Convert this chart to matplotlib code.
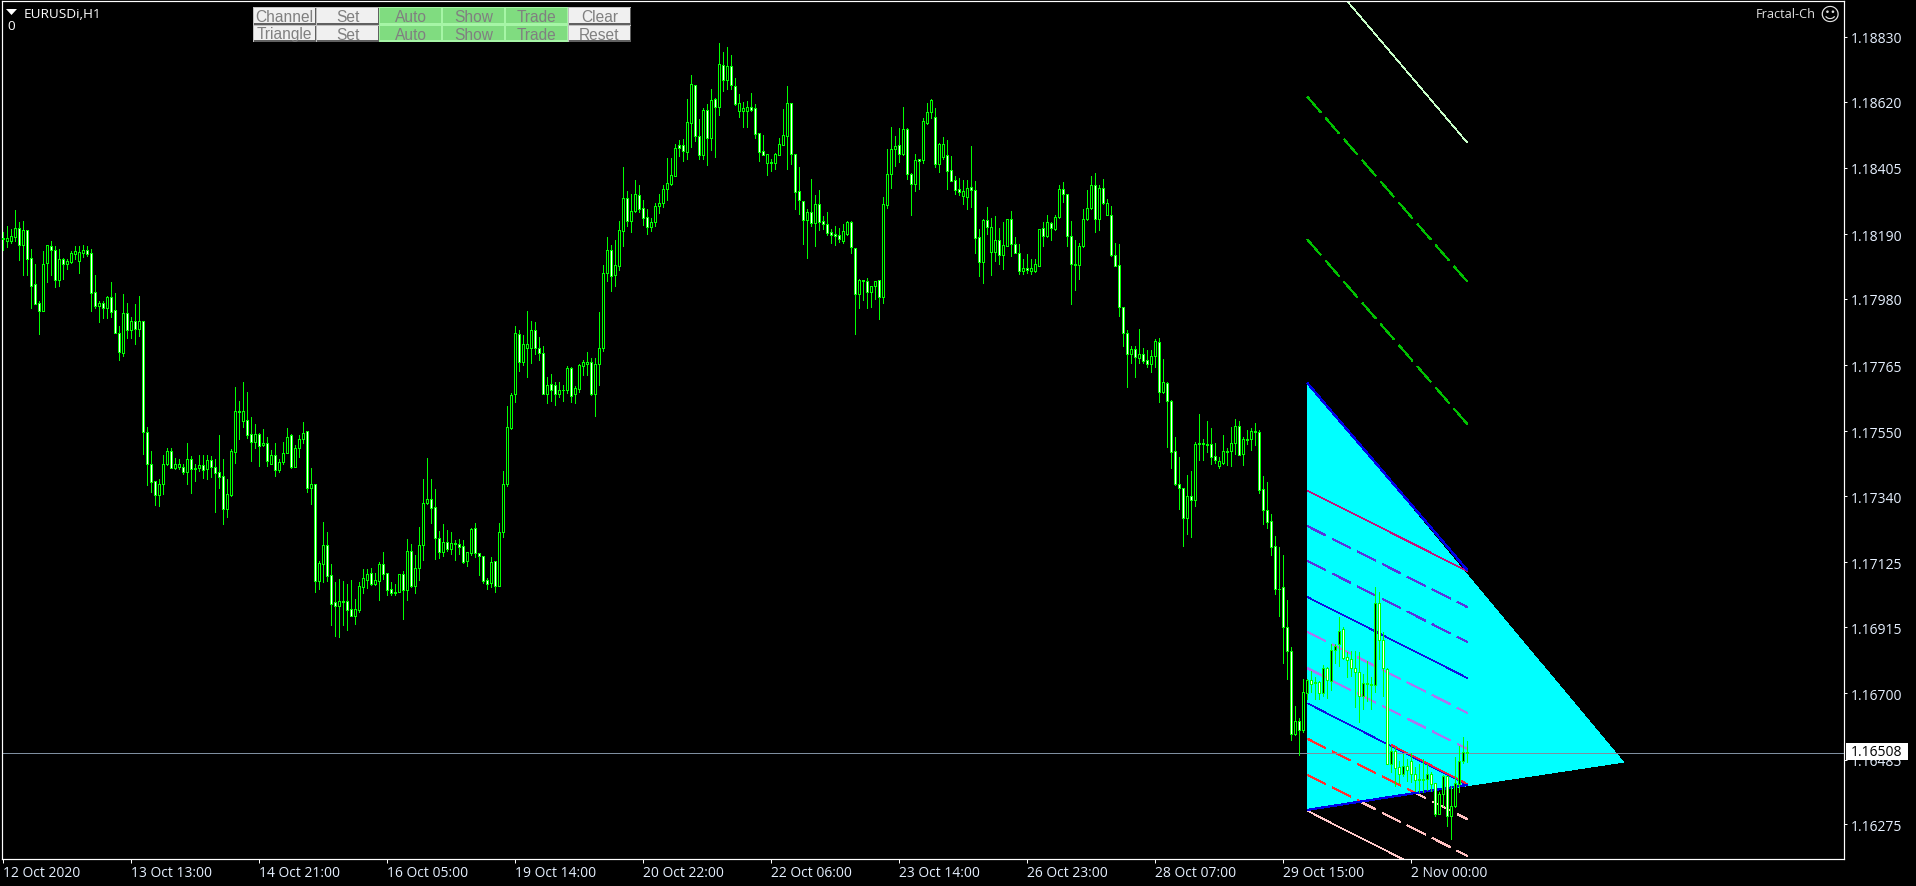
import matplotlib
matplotlib.use("Agg")
import matplotlib.pyplot as plt
from matplotlib.patches import Polygon, Rectangle

# ---------------- data: EURUSDi H1, prices as points above 1.16000 (1 point = 0.00001) ----------------
BASE = 1.16
highs = [
2196,2216,2207,2269,2230,2233,2204,2142,2093,1972,2135,2154,2168,2152,2141,2113,2108,2135,2152,2153,
2155,2151,2142,2058,1973,1973,1988,2034,1999,1892,1996,1967,1921,1963,1988,1910,1564,1486,1388,1395,
1472,1496,1496,1464,1459,1446,1512,1470,1446,1475,1472,1472,1470,1462,1538,1459,1395,1492,1694,1649,1710,1678,
1597,1574,1544,1558,1531,1490,1513,1459,1515,1560,1541,1505,1539,1580,1551,1432,1379,1129,1255,1223,1119,1061,
1071,1064,1055,1068,1006,1061,1103,1104,1106,1090,1127,1159,1090,1061,1055,1087,1097,1200,1184,1149,1240,1395,
1464,1395,1362,1226,1250,1229,1224,1197,1200,1197,1158,1237,1253,1155,1145,1075,1143,1129,1253,1422,1633,
1675,1892,1879,1863,1940,1909,1905,1857,1828,1727,1737,1711,1711,1700,1763,1759,1698,1768,1782,1808,1789,1789,
1938,2090,2181,2155,2172,2233,2409,2331,2321,2366,2350,2301,2272,2243,2291,2321,2350,2438,2437,
2483,2496,2499,2629,2707,2674,2564,2598,2613,2660,2632,2811,2781,2798,2772,2696,2645,2619,2622,2647,2613,2518,
2512,2451,2433,2453,2502,2596,2671,2616,2450,2408,2297,2272,2369,2317,2332,2249,2262,2207,2217,2210,2223,2233,
2233,2145,2044,2041,2048,2022,2038,2041,2311,2466,2538,2509,2535,2603,2534,2389,2449,2434,2567,2616,2629,2600,
2486,2505,2496,2444,2379,2372,2366,2365,2476,2363,2207,2239,2278,2243,2249,2210,2230,2241,2265,2181,2158,2109,
2126,2109,2109,2207,2230,2252,2230,2252,2350,2359,2320,2233,2171,2163,2272,2332,2378,2389,2350,2369,2304,2281,
2161,2158,1954,
1878,1827,1827,1883,1821,1814,1814,1850,1853,1785,1710,1651,
1532,1467,1368,1408,1421,1515,1606,1525,1584,1561,1512,1467,1538,1496,1564,1590,1584,1532,1554,1561,1577,1554,
1405,1386,1282,1210,1174,1149,1002,850,658,619,746,746,772,753,740,791,785,
860,860,947,914,833,837,838,835,763,806,752,1044,1028,898,784,530,525,481,503,487,508,460,471,487,471,444,409,
379,435,433,400,492,530,559,545]
lows = [
2140,2150,2161,2169,2106,2058,2058,1950,1964,1866,1942,2035,2058,2019,2022,2045,2077,2096,2109,2064,2115,2120,
1941,1950,1905,1918,1918,1921,1870,1782,1795,1853,1853,1834,1860,1477,1376,1353,1311,1308,1347,1440,1432,1427,
1428,1412,1379,1350,1389,1421,1399,1395,1402,1288,1366,1249,1272,1341,1447,1525,1564,1528,
1454,1497,1438,1504,1438,1446,1407,1420,1445,1479,1433,1436,1467,1514,1355,1316,1030,1039,1062,1065,922,887,884,
922,906,950,925,965,1026,1043,1053,1052,1003,1071,1019,1019,1019,1028,941,1003,1044,1026,1068,1133,1315,1253,
1136,1139,1146,1162,1153,1133,1153,1124,1114,1149,1143,1084,1059,1039,1045,1029,1048,1208,1374,
1558,1646,1746,1766,1727,1772,1802,1782,1670,1643,1649,1636,1662,1649,1675,1646,1643,1678,1733,1733,1668,1600,
1701,1811,2039,2006,2022,2074,2152,2216,2198,2263,2263,2220,2191,2201,2217,2259,2279,2301,2350,
2380,2443,2428,2434,2473,2492,2434,2434,2415,2463,2440,2577,2655,2661,2661,2609,2570,2538,2538,2590,2502,2428,
2447,2382,2395,2402,2447,2478,2402,2418,2272,2255,2158,2113,2217,2152,2204,2207,2187,2161,2155,2165,2163,2187,
2129,1866,1950,1976,1950,1954,1980,1915,1967,2275,2340,2411,2424,2447,2369,2252,2330,2337,2421,2548,2567,2408,
2392,2434,2337,2363,2320,2317,2288,2272,2278,2129,2054,2032,2191,2057,2103,2093,2077,2153,2120,2129,2061,2061,
2064,2061,2067,2088,2152,2181,2171,2204,2243,2294,2152,1963,2009,2045,2148,2236,2272,2197,2204,2288,2252,2119,
2087,1924,1827,
1695,1772,1727,1772,1772,1759,1743,1759,1646,1675,1500,1431,
1377,1298,1179,1217,1207,1308,1457,1457,1483,1444,1447,1431,1444,1441,1437,1476,1474,1441,1509,1489,1506,1350,
1249,1236,1149,1022,951,798,746,548,564,499,575,683,703,681,681,692,684,
712,798,790,811,752,757,655,606,649,676,649,705,811,692,470,444,400,409,433,416,411,384,379,379,387,384,303,308,
335,270,229,330,381,474,478]
opens = [
2177,2169,2169,2182,2210,2154,2204,2112,2027,1966,1942,2098,2151,2138,2042,2108,2094,2101,2127,2104,
2130,2138,2128,2001,1958,1966,1951,1985,1943,1871,1805,1933,1880,1910,1883,1910,1547,1446,1388,1344,
1381,1444,1485,1431,1434,1436,1419,1459,1433,1432,1440,1429,1456,1436,1417,1404,1299,1344,1484,1615,
1584,1586,1541,1515,1541,1507,1514,1446,1472,1426,1450,1479,1538,1436,1495,1524,1551,1368,1379,1066,
1121,1181,1083,995,985,999,999,973,952,972,1046,1069,1090,1055,1066,1119,1090,1038,1028,1028,
1087,1037,1161,1048,1106,1181,1317,1330,1304,1203,1160,1190,1170,1187,1184,1177,1128,1157,1236,1155,
1145,1067,1057,1129,1048,1223,1378,1562,1670,1865,1775,1821,1820,1878,1820,1804,1670,1703,1700,1672,
1684,1683,1755,1670,1689,1764,1769,1775,1673,1768,1820,2063,2138,2059,2088,2200,2307,2232,2265,2317,
2274,2245,2213,2229,2281,2291,2336,2353,2380,2478,2478,2458,2550,2674,2508,2448,2592,2503,2628,2604,
2738,2692,2735,2670,2591,2591,2591,2602,2598,2517,2459,2422,2423,2422,2448,2481,2510,2615,2449,2329,
2297,2237,2261,2227,2287,2232,2222,2196,2190,2186,2169,2191,2230,2144,1997,2040,2037,2004,2021,2040,
1987,2286,2387,2465,2478,2450,2530,2387,2353,2433,2432,2550,2586,2572,2419,2440,2446,2397,2365,2336,
2313,2311,2342,2332,2180,2101,2235,2133,2133,2170,2122,2153,2241,2157,2128,2072,2079,2072,2070,2088,
2209,2183,2226,2206,2245,2336,2319,2183,2095,2089,2151,2238,2274,2349,2240,2339,2254,2254,2121,2089,
1953,1870,1801,1817,1789,1800,1781,1770,1794,1839,1677,1706,1650,1485,1381,1365,1268,1342,1329,1512,
1512,1508,1508,1469,1439,1449,1482,1485,1514,1569,1476,1523,1525,1550,1547,1362,1294,1258,1177,1040,
1044,917,839,568,609,582,700,745,738,738,700,784,741,842,860,908,818,811,781,768,
691,735,727,727,994,872,778,470,512,460,440,466,482,437,421,422,421,440,408,309,
372,431,301,333,406,479,511]
closes = [
2174,2178,2183,2210,2156,2203,2111,2023,1964,1942,2095,2154,2140,2042,2108,2094,2102,2128,2134,2131,
2138,2127,2000,1958,1966,1951,1985,1939,1870,1807,1933,1880,1910,1883,1910,1547,1445,1387,1344,1381,
1446,1485,1432,1443,1443,1419,1459,1428,1428,1440,1426,1456,1434,1416,1402,1299,1346,1485,1615,1614,
1615,1539,1515,1541,1504,1514,1453,1472,1426,1450,1479,1533,1436,1495,1525,1546,1368,1379,1066,1122,
1181,1082,991,985,999,998,972,951,973,1048,1074,1087,1055,1067,1119,1089,1037,1027,1027,1087,
1037,1161,1049,1106,1181,1317,1330,1303,1203,1160,1190,1170,1187,1186,1174,1127,1158,1233,1154,1147,
1066,1056,1125,1048,1223,1379,1564,1667,1869,1775,1833,1833,1878,1820,1806,1670,1700,1683,1672,1684,
1683,1755,1666,1690,1766,1775,1775,1673,1768,1820,2063,2138,2056,2089,2203,2307,2232,2265,2320,2273,
2244,2213,2229,2281,2291,2336,2356,2382,2469,2469,2461,2553,2676,2508,2448,2592,2501,2624,2604,2741,
2692,2735,2673,2613,2615,2598,2602,2593,2516,2458,2448,2449,2422,2449,2482,2511,2615,2451,2328,2300,
2236,2261,2227,2287,2231,2222,2194,2188,2185,2175,2199,2230,2147,1997,2041,2037,2003,2021,2037,1987,
2287,2387,2465,2475,2449,2530,2387,2352,2430,2428,2556,2586,2624,2418,2482,2482,2395,2364,2333,2327,
2329,2339,2332,2179,2101,2236,2214,2215,2170,2122,2154,2241,2157,2129,2072,2079,2075,2079,2092,2206,
2183,2230,2209,2245,2336,2319,2183,2095,2089,2151,2241,2274,2349,2241,2339,2290,2290,2121,2088,1953,
1868,1800,1817,1790,1800,1780,1770,1794,1843,1677,1710,1648,1484,1380,1365,1268,1342,1329,1508,1509,
1508,1507,1468,1458,1453,1485,1486,1514,1569,1474,1524,1527,1550,1547,1361,1294,1257,1176,1039,1039,
917,838,568,609,582,703,745,731,735,700,784,742,842,853,903,816,809,783,768,690,
735,729,731,994,872,781,470,514,459,440,463,452,437,418,420,420,440,407,308,375,
431,301,333,408,479,511,508]

last_price = 1.16508
price_ticks = [1.18830, 1.18620, 1.18405, 1.18190, 1.17980, 1.17765, 1.17550, 1.17340,
               1.17125, 1.16915, 1.16700, 1.16485, 1.16275]
time_ticks = [0, 32, 64, 96, 128, 160, 192, 224, 256, 288, 320]
time_ticks = time_ticks + [352]
time_labels = ["12 Oct 2020", "13 Oct 13:00", "14 Oct 21:00", "16 Oct 05:00", "19 Oct 14:00",
               "20 Oct 22:00", "22 Oct 06:00", "23 Oct 14:00", "26 Oct 23:00", "28 Oct 07:00",
               "29 Oct 15:00", "2 Nov 00:00"]

# Fractal channel drawing (bar numbers and prices in points above 1.16000)
tri_bars = [326, 405, 326]
tri_pts = [1707, 477, 322]
side_end_bar = 366
upper_side_pts = [1707, 1100]
lower_side_pts = [322, 403]
red_solid_pts = [1358, 1097]
purple_dash_pts = [(1243, 980), (1130, 867)]
blue_solid_pts = [(1013, 750), (668, 403)]
lilac_dash_pts = [(900, 637), (782, 520)]
red_dash_pts = [(553, 292), (436, 173)]
pink_solid_pts = [319, 56]
red_overlay_bars = [347, 366]
red_overlay_pts = [533, 406]
green_dash_pts = [(2636, 2036), (2173, 1574)]
pale_green_pts = [3099, 2487]

button_rows = [["Channel", "Set", "Auto", "Show", "Trade", "Clear"],
               ["Triangle", "Set", "Auto", "Show", "Trade", "Reset"]]

# ---------------- figure ----------------
W, H = 1916, 887
plt.rcParams["lines.scale_dashes"] = False
plt.rcParams["font.family"] = ["Open Sans", "DejaVu Sans"]
PX = 0.72
assert len(highs) == len(lows) == len(opens) == len(closes) == 367, (len(highs), len(lows), len(opens), len(closes))

fig = plt.figure(figsize=(W / 100, H / 100), dpi=100, facecolor="black")
L, R, T, B = 2, 1844, 2, 860
ax = fig.add_axes([L / W, (H - B) / H, (R - L) / W, (B - T) / H], facecolor="black")
ax.set_xlim((L - 3.3) / 4, (R - 3.3) / 4)
pr = lambda y: 1.18830 - (y - 38) * 3.245e-5
ax.set_ylim(pr(B), pr(T))
P = lambda v: BASE + v / 1e5

for s in ax.spines.values():
    s.set_color("white")
    s.set_linewidth(PX * 1.2)

# triangle and channel lines
tri = Polygon([(b, P(v)) for b, v in zip(tri_bars, tri_pts)], closed=True, fc="#00ffff", ec="none",
              zorder=1, antialiased=False)
ax.add_patch(tri)
xs = [tri_bars[0], side_end_bar]
DASH = (0, (14.5, 5.5))

def line(vals, color, lw=0.55, dash=None, z=2, clip=False, bars=xs):
    ln, = ax.plot(bars, [P(v) for v in vals], color=color, lw=lw * PX, zorder=z, antialiased=False,
                  solid_capstyle="butt", dash_capstyle="butt")
    if dash:
        ln.set_linestyle(dash)
    if clip:
        ln.set_clip_path(tri)
    return ln

line(red_solid_pts, "#c4107c")
for v in purple_dash_pts:
    line(v, "#5a34dc", dash=DASH)
for v in blue_solid_pts:
    line(v, "#1010e0")
line(red_overlay_pts, "#f02040", bars=red_overlay_bars, z=2.1)
for v in lilac_dash_pts:
    line(v, "#a878f0", dash=DASH)
for v in red_dash_pts:
    line(v, "#ffc0c0", dash=DASH, z=0.5)
    line(v, "#ff3030", dash=DASH, clip=True)
line(pink_solid_pts, "#ffc8c8", z=0.5)
line(upper_side_pts, "#0000e8", lw=1.2, z=2.2)
line(lower_side_pts, "#0000e8", lw=1.2, z=2.2)
for v in green_dash_pts:
    line(v, "#00c000", dash=DASH)
line(pale_green_pts, "#c8ffc8")

# bid line
ax.axhline(last_price, color="#7f8fa0", lw=PX, zorder=2.5, antialiased=False)

# candles
n = len(closes)
k = list(range(n))
ax.vlines(k, [P(v) for v in lows], [P(v) for v in highs], colors="#00ff00", lw=PX, zorder=3, antialiased=False)
for i in k:
    o, c = P(opens[i]), P(closes[i])
    ax.add_patch(Rectangle((i - 0.25, min(o, c)), 0.5, abs(c - o), fc="#000000" if c > o else "#ffffff",
                           ec="#00ff00", lw=PX, zorder=3.1, antialiased=False))

# axes
ax.yaxis.tick_right()
ax.set_yticks(price_ticks)
ax.set_yticklabels([f"{t:.5f}" for t in price_ticks])
ax.set_xticks(time_ticks)
ax.set_xticklabels(time_labels, ha="left")
ax.tick_params(axis="y", length=2.3, width=PX, color="white", labelcolor="#e6f0ff", labelsize=10, pad=2.4)
ax.tick_params(axis="x", length=2.6, width=PX, color="white", labelcolor="#e6f0ff", labelsize=10, pad=1.5)

# pixel overlay for the terminal's interface elements
ui = fig.add_axes([0, 0, 1, 1], facecolor="none", zorder=10)
ui.set_xlim(0, W)
ui.set_ylim(H, 0)
ui.axis("off")

ui.add_patch(Rectangle((1846, 744), 62, 17, fc="white", ec="none", antialiased=False))
ui.text(1851, 752.5, f"{last_price:.5f}", color="black", fontsize=10, va="center", ha="left")

ui.add_patch(Polygon([(6, 10), (17, 10), (11.5, 16)], closed=True, fc="white", ec="none"))
ui.text(24, 14, "EURUSDi,H1", color="white", fontsize=9.7, va="center", ha="left")
ui.text(7, 27, "0", color="white", fontsize=9.7, va="center", ha="left")
ui.text(1816, 15, "Fractal-Ch", color="#e0e0e0", fontsize=9.2, va="center", ha="right")
ui.text(1830, 15, "\u263a", color="#e0e0e0", fontsize=14, va="center", ha="center", family="DejaVu Sans")

col_x = [253, 316, 379, 442, 505, 568, 631]
row_y = [8, 26, 43]
for r, row in enumerate(button_rows):
    y0, y1 = row_y[r], row_y[r + 1]
    for c, label in enumerate(row):
        x0, x1 = col_x[c], col_x[c + 1]
        green = label in ("Auto", "Show", "Trade")
        face = "#80dc80" if green else "#f0f0f0"
        light = "#a6f5a6" if green else "#c0c0c0"
        dark = "#a6f5a6" if green else "#606060"
        ui.add_patch(Rectangle((x0, y0), x1 - x0, y1 - y0, fc=light, ec="none", antialiased=False))
        ui.add_patch(Rectangle((x0 + 1, y1 - 2), x1 - x0 - 1, 2, fc=dark, ec="none", antialiased=False))
        ui.add_patch(Rectangle((x1 - 1, y0 + 1), 1, y1 - y0 - 1, fc=dark, ec="none", antialiased=False))
        ui.add_patch(Rectangle((x0 + 1, y0 + 1), x1 - x0 - 2, y1 - y0 - 3, fc=face, ec="none", antialiased=False))
        ui.text((x0 + x1) / 2, (y0 + y1) / 2 + 0.5, label, color="#808080", fontsize=11.2,
                family="Liberation Sans", va="center", ha="center", clip_on=True)

fig.savefig("out.png", dpi=100, facecolor="black")
